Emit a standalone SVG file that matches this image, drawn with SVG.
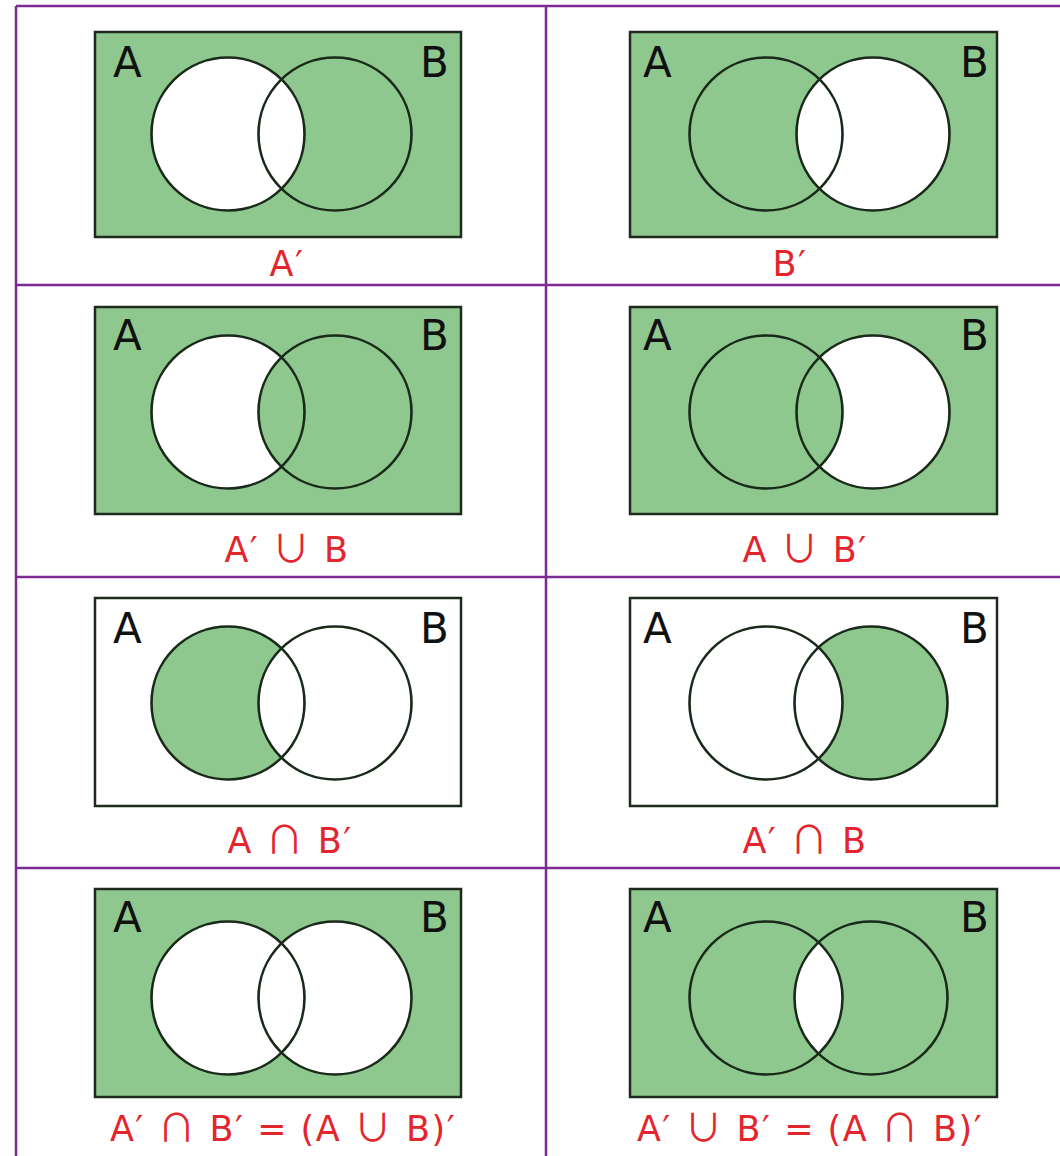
<svg xmlns="http://www.w3.org/2000/svg" width="1060" height="1156" viewBox="0 0 1060 1156">
<style>
.grid{stroke:#7d2a92;stroke-width:2.5;fill:none}
.box{stroke:#1f2a1f;stroke-width:2.5}
.g{fill:#8fc88f}
.w{fill:#ffffff}
.ring{fill:none;stroke:#1a2a1a;stroke-width:2.6}
.set{font-family:"DejaVu Sans",sans-serif;font-size:42px;fill:#111}
.lbl{font-family:"DejaVu Sans",sans-serif;font-size:35px;fill:#e3262e;text-anchor:middle;letter-spacing:1.5px}
.op{font-family:"Noto Sans CJK SC","DejaVu Sans",sans-serif;font-size:38px}
</style>
<defs>
<clipPath id="clipB"><circle cx="240" cy="102" r="76.5"/></clipPath>
<g id="rings">
<circle class="ring" cx="133" cy="102" r="76.5"/>
<circle class="ring" cx="240" cy="102" r="76.5"/>
</g>
</defs>
<rect width="1060" height="1156" fill="#ffffff"/>
<g id="grid">
<line class="grid" x1="16" y1="6" x2="1060" y2="6"/>
<line class="grid" x1="16" y1="6" x2="16" y2="1156"/>
<line class="grid" x1="546" y1="6" x2="546" y2="1156"/>
<line class="grid" x1="16" y1="285" x2="1060" y2="285"/>
<line class="grid" x1="16" y1="577" x2="1060" y2="577"/>
<line class="grid" x1="16" y1="868" x2="1060" y2="868"/>
</g>
<g id="connectors"></g>

<g id="p1" transform="translate(95,32)">
<rect class="box g" x="0" y="0" width="366" height="205"/>
<circle class="g" cx="240" cy="102" r="76.5"/>
<circle class="w" cx="133" cy="102" r="76.5"/>
<use href="#rings"/>
<text class="set" x="18" y="45">A</text><text class="set" x="325" y="45">B</text>
</g>
<text class="lbl" x="287" y="276">A′</text>

<g id="p2" transform="translate(630,32)">
<rect class="box g" x="0" y="0" width="367" height="205"/>
<circle class="w" cx="243" cy="102" r="76.5"/>
<use href="#rings" transform="translate(3,0)"/>
<text class="set" x="13" y="45">A</text><text class="set" x="330" y="45">B</text>
</g>
<text class="lbl" x="790" y="276">B′</text>

<g id="p3" transform="translate(95,307)">
<rect class="box g" x="0" y="0" width="366" height="207"/>
<circle class="w" cx="133" cy="105" r="76.5"/>
<circle class="g" cx="240" cy="105" r="76.5"/>
<use href="#rings" transform="translate(0,3)"/>
<text class="set" x="18" y="43">A</text><text class="set" x="325" y="43">B</text>
</g>
<text class="lbl" x="287" y="562">A′ <tspan class="op">∪</tspan> B</text>

<g id="p4" transform="translate(630,307)">
<rect class="box g" x="0" y="0" width="367" height="207"/>
<circle class="w" cx="243" cy="105" r="76.5"/>
<circle class="g" cx="136" cy="105" r="76.5"/>
<use href="#rings" transform="translate(3,3)"/>
<text class="set" x="13" y="43">A</text><text class="set" x="330" y="43">B</text>
</g>
<text class="lbl" x="805" y="562">A <tspan class="op">∪</tspan> B′</text>

<g id="p5" transform="translate(95,598)">
<rect class="box w" x="0" y="0" width="366" height="208"/>
<circle class="g" cx="133" cy="105" r="76.5"/>
<circle class="w" cx="240" cy="105" r="76.5"/>
<use href="#rings" transform="translate(0,3)"/>
<text class="set" x="18" y="45">A</text><text class="set" x="325" y="45">B</text>
</g>
<text class="lbl" x="290" y="853">A <tspan class="op">∩</tspan> B′</text>

<g id="p6" transform="translate(630,598)">
<rect class="box w" x="0" y="0" width="367" height="208"/>
<circle class="g" cx="241" cy="105" r="76.5"/>
<circle class="w" cx="136" cy="105" r="76.5"/>
<circle class="ring" cx="136" cy="105" r="76.5"/>
<circle class="ring" cx="241" cy="105" r="76.5"/>
<text class="set" x="13" y="45">A</text><text class="set" x="330" y="45">B</text>
</g>
<text class="lbl" x="805" y="853">A′ <tspan class="op">∩</tspan> B</text>

<g id="p7" transform="translate(95,889)">
<rect class="box g" x="0" y="0" width="366" height="208"/>
<circle class="w" cx="133" cy="109" r="76.5"/>
<circle class="w" cx="240" cy="109" r="76.5"/>
<use href="#rings" transform="translate(0,7)"/>
<text class="set" x="18" y="43">A</text><text class="set" x="325" y="43">B</text>
</g>
<text class="lbl" x="283" y="1141">A′ <tspan class="op">∩</tspan> B′ = (A <tspan class="op">∪</tspan> B)′</text>

<g id="p8" transform="translate(630,889)">
<rect class="box g" x="0" y="0" width="367" height="208"/>
<g transform="translate(1,7)">
<circle class="w" cx="135" cy="102" r="76.5" clip-path="url(#clipB)"/>
<circle class="ring" cx="135" cy="102" r="76.5"/>
<circle class="ring" cx="240" cy="102" r="76.5"/>
</g>
<text class="set" x="13" y="43">A</text><text class="set" x="330" y="43">B</text>
</g>
<text class="lbl" x="810" y="1141">A′ <tspan class="op">∪</tspan> B′ = (A <tspan class="op">∩</tspan> B)′</text>
</svg>
